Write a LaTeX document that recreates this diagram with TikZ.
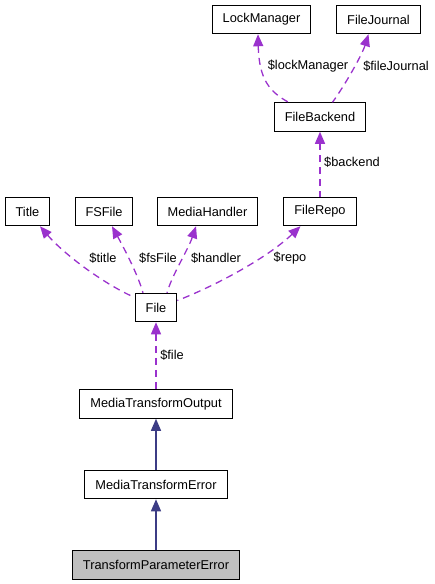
\documentclass[tikz,border=0pt]{standalone}
\usepackage{fontspec}
\setmainfont{Liberation Sans}
\usepackage{xcolor}
\usetikzlibrary{arrows.meta,positioning}

\definecolor{orchid}{HTML}{9A32CD}
\definecolor{navyblue}{HTML}{191970}
\definecolor{boxgray}{HTML}{BFBFBF}

\begin{document}
\begin{tikzpicture}[
  x=1pt, y=-1pt,                     % pixel-like units, y grows downwards
  every node/.style={font=\fontsize{12.8}{15}\selectfont},
  klass/.style={draw=black, line width=1pt, minimum height=28.5pt, inner xsep=10.5pt, inner ysep=0pt},
  member/.style={{Triangle[length=12pt,width=10pt]}-, draw=orchid, line width=1.3pt, dash pattern=on 7pt off 5pt},
  inherit/.style={{Triangle[length=12pt,width=10pt]}-, draw=navyblue!85!white, line width=1.3pt},
  lbl/.style={inner sep=1pt}
]
\useasboundingbox (0,0) rectangle (435,584);

\node[klass] (lock) at (261.5,19.5) {LockManager};
\node[klass] (journal) at (378.5,19.5) {FileJournal};
\node[klass] (backend) at (320,117) {FileBackend};
\node[klass] (title) at (27.5,211.5) {Title};
\node[klass] (fsfile) at (104,211.5) {FSFile};
\node[klass] (handler) at (207.5,211.5) {MediaHandler};
\node[klass] (repo) at (320,211.5) {FileRepo};
\node[klass] (file) at (156,307.5) {File};
\node[klass] (output) at (156,404) {MediaTransformOutput};
\node[klass, below=51pt of output] (error) {MediaTransformError};
\node[klass, fill=boxgray, below=51pt of error] (param) {TransformParameterError};

% members
\draw[member] ([xshift=-3.5pt]lock.south) .. controls (259,80) and (270,92) .. ([xshift=-31.5pt]backend.north);
\draw[member] ([xshift=-10pt]journal.south) .. controls (362,55) and (345,85) .. ([xshift=12.5pt]backend.north);
\draw[member] (backend.south) -- (repo.north);
\draw[member] ([xshift=12.5pt]title.south) .. controls (62,252) and (100,282) .. ([yshift=10pt]file.west);
\draw[member] ([xshift=8pt]fsfile.south) .. controls (125,250) and (138,275) .. ([xshift=-13pt]file.north);
\draw[member] ([xshift=-11.5pt]handler.south) .. controls (188,250) and (172,275) .. ([xshift=11pt]file.north);
\draw[member] ([xshift=-19.5pt]repo.south) .. controls (265,260) and (210,288) .. ([yshift=7pt]file.east);
\draw[member] (file.south) -- (output.north);

\node[lbl] (lockLbl) at (308,66) {\$lockManager};
\node[lbl] (journalLbl) at (396,66) {\$fileJournal};
\node[lbl] (backendLbl) at (352,162) {\$backend};
\node[lbl] (titleLbl) at (103,258) {\$title};
\node[lbl] (fsfileLbl) at (158,258) {\$fsFile};
\node[lbl] (handlerLbl) at (216,258) {\$handler};
\node[lbl] (repoLbl) at (290,258) {\$repo};
\node[lbl] (fileLbl) at (172,355) {\$file};

% inheritance
\draw[inherit] (output.south) -- (error.north);
\draw[inherit] (error.south) -- (param.north);
\end{tikzpicture}
\end{document}
